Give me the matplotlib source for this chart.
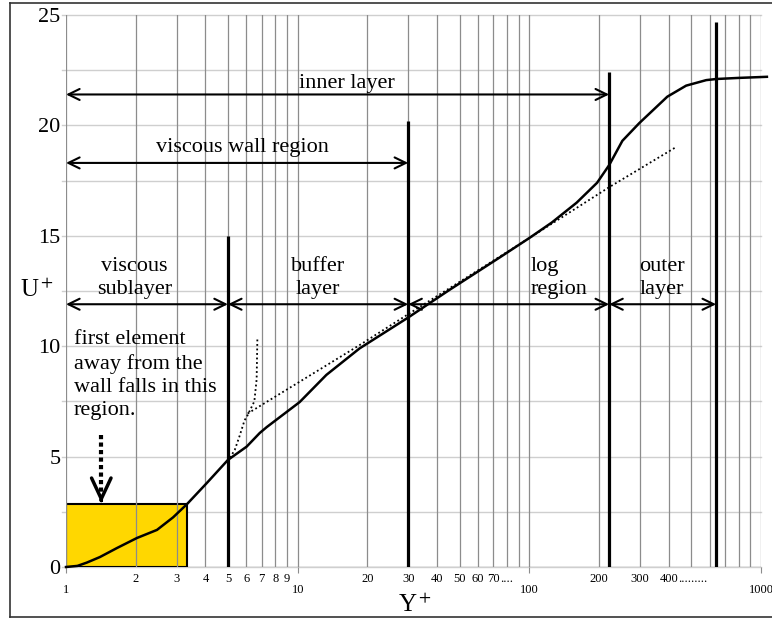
import numpy as np
import matplotlib
matplotlib.use('Agg')
import matplotlib.pyplot as plt
from matplotlib.patches import Rectangle
from matplotlib.lines import Line2D
from matplotlib.ticker import FixedLocator, FixedFormatter

plt.rcParams['font.family'] = ['Liberation Serif', 'DejaVu Serif']
plt.rcParams['mathtext.fontset'] = 'stix'

# mean velocity profile, U+ against Y+
y_plus = [1, 1.12, 1.23, 1.4, 1.66, 2.02, 2.47, 2.9, 3.33, 4.05, 5, 6.02, 6.86, 7.36,
          10.2, 13.3, 18.5, 30, 45.2, 74, 100, 125, 160, 196, 221, 252, 298, 394,
          475, 580, 640, 800, 1060]
u_plus = [0, 0.05, 0.2, 0.45, 0.86, 1.31, 1.68, 2.25, 2.85, 3.8, 4.85, 5.45, 6.07, 6.34,
          7.47, 8.7, 9.9, 11.3, 12.55, 14.0, 14.9, 15.6, 16.5, 17.4, 18.2, 19.3, 20.1, 21.3,
          21.8, 22.05, 22.1, 22.15, 22.2]

# dotted reference laws
lin_y = [5.1, 5.35, 5.6, 5.9, 6.03, 6.5, 6.65, 6.7]
lin_u = [4.95, 5.3, 5.9, 6.65, 6.8, 7.5, 8.5, 10.4]
log_y = [6.08, 18.5, 30, 100, 221, 427]
log_u = [6.95, 10.05, 11.45, 14.9, 17.2, 19.0]

# region boundaries and the height of each boundary bar
bound_y = [5, 30, 221, 640]
bound_top = [15.0, 20.2, 22.4, 24.7]

# span arrows: start, end, level
span_start = [1, 1, 1, 5, 30, 221]
span_end = [221, 30, 5, 30, 221, 640]
span_level = [21.4, 18.3, 11.9, 11.9, 11.9, 11.9]

# first cell box
cell_y = 3.33
cell_u = 2.85

major_ticks = [1, 10, 100, 1000]
minor_ticks = [2, 3, 4, 5, 6, 7, 8, 9, 20, 30, 40, 50, 60, 70, 80, 90,
               200, 300, 400, 500, 600, 700, 800, 900]
minor_labels = ['2', '3', '4', '5', '6', '7', '8', '9', '20', '30', '40', '50', '60',
                '70', '', '', '200', '300', '400', '', '', '', '', '']
# trailing dots after some labels
dot_ticks = [70, 400]
dot_text = ['....', '.........']
y_ticks = [0, 5, 10, 15, 20, 25]
y_grid = np.arange(0, 25.01, 2.5)

fig = plt.figure(figsize=(7.72, 6.19), dpi=100)
ax = fig.add_axes([0.0855, 0.084, 0.9003, 0.8918])
ax.set_xscale('log')
ax.set_xlim(1, 1000)
ax.set_ylim(0, 25)

for s in ax.spines.values():
    s.set_visible(False)

# grid
for v in y_grid:
    ax.axhline(v, xmin=-0.006, color='#cfcfcf', lw=1.0, zorder=0.2, clip_on=False)
ax.xaxis.set_major_locator(FixedLocator(major_ticks))
ax.xaxis.set_major_formatter(FixedFormatter([str(t) for t in major_ticks]))
ax.xaxis.set_minor_locator(FixedLocator(minor_ticks))
ax.xaxis.set_minor_formatter(FixedFormatter(minor_labels))
ax.set_axisbelow(True)
ax.grid(which='both', axis='x', color='#8c8c8c', lw=0.9)
ax.axhline(0, color='#a0a0a0', lw=1.0, zorder=0.3)

tick_fs = 9
ax.set_yticks(y_ticks)
ax.tick_params(axis='y', length=0, pad=4, labelsize=16)
ax.tick_params(axis='x', which='major', length=4, color='#8c8c8c', pad=8, labelsize=tick_fs)
ax.tick_params(axis='x', which='minor', length=0, pad=4, labelsize=tick_fs)

for t, d in zip(dot_ticks, dot_text):
    digits = minor_labels[minor_ticks.index(t)]
    ax.annotate(d, xy=(t, 0), xycoords=('data', 'axes fraction'),
                xytext=(0.25 * tick_fs * len(digits), -4), textcoords='offset points',
                ha='left', va='top', fontsize=tick_fs)

# first cell region
ax.add_patch(Rectangle((1, 0), cell_y - 1, cell_u, facecolor='#ffd700',
                       edgecolor='black', lw=1.5, zorder=0.4))

# boundary bars
ax.vlines(bound_y, 0, bound_top, color='black', lw=2.3, zorder=3)

# profile and reference laws
ax.plot(y_plus, u_plus, color='black', lw=1.8, zorder=4, clip_on=False)
ax.plot(lin_y, lin_u, color='black', lw=1.3, ls=(0, (1, 1.5)), zorder=4)
ax.plot(log_y, log_u, color='black', lw=1.3, ls=(0, (1, 1.5)), zorder=4)

# span arrows
for s, e, l in zip(span_start, span_end, span_level):
    ax.annotate('', xy=(e, l), xytext=(s, l),
                arrowprops=dict(arrowstyle='<->,head_length=0.45,head_width=0.22',
                                mutation_scale=18, lw=1.5, color='black',
                                shrinkA=0, shrinkB=0), zorder=5)

fs = 16
ls = 1.3
ax.text(16.3, 21.9, 'inner layer', ha='center', va='center', fontsize=fs)
ax.text(5.8, 19.0, 'viscous wall region', ha='center', va='center', fontsize=fs)
ax.text(1.98, 13.1, 'viscous\nsublayer', ha='center', va='center', fontsize=fs, linespacing=ls)
ax.text(12.2, 13.1, 'buffer\nlayer', ha='center', va='center', fontsize=fs, linespacing=ls)
ax.text(101, 13.1, 'log\nregion', ha='left', va='center', fontsize=fs, linespacing=ls)
ax.text(298, 13.1, 'outer\nlayer', ha='left', va='center', fontsize=fs, linespacing=ls)
ax.text(1.08, 10.72, 'first element\naway from the\nwall falls in this\nregion.',
        ha='left', va='top', fontsize=fs, linespacing=ls)

# dotted pointer into the box
ax.plot([1.42, 1.42], [6.0, 3.3], color='black', lw=3, ls=(0, (1, 0.8)),
        dash_capstyle='butt', zorder=5)
ax.annotate('', xy=(1.42, 2.9), xytext=(1.42, 3.05),
            arrowprops=dict(arrowstyle='->,head_length=0.75,head_width=0.35',
                            mutation_scale=20, lw=2.5, color='black',
                            shrinkA=0, shrinkB=0), zorder=5)

fig.text(398 / 772, 1 - 605 / 619, r'Y$^+$', ha='left', va='center', fontsize=18)
fig.text(20 / 772, 1 - 290 / 619, r'U$^+$', ha='left', va='center', fontsize=18)

# outer frame
for xs, ys in [([0.0136, 0.0136], [0.003, 0.995]),
               ([0.0136, 1.0], [0.995, 0.995]),
               ([0.0136, 1.0], [0.003, 0.003])]:
    fig.add_artist(Line2D(xs, ys, color='#333333', lw=1.2))

fig.savefig('out.png', dpi=100)
